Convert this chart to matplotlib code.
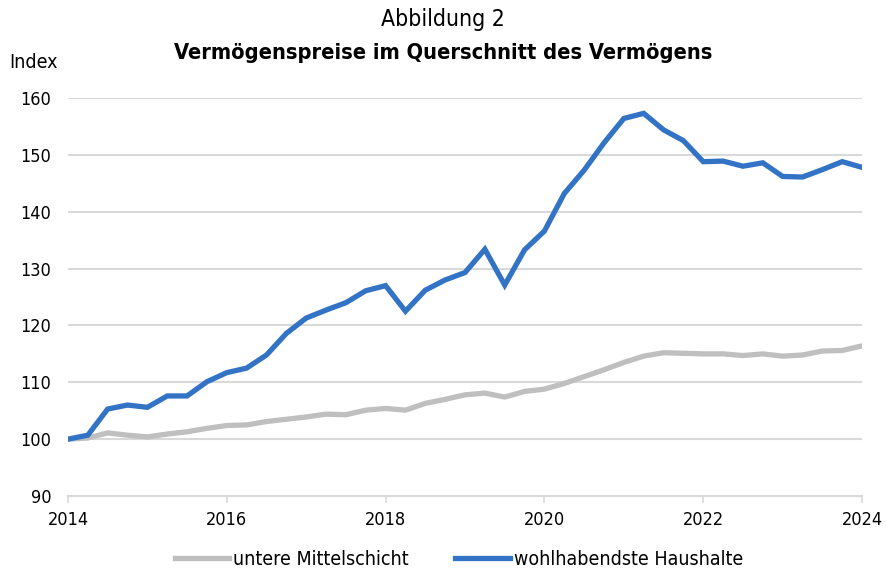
import numpy as np
import matplotlib
matplotlib.use("Agg")
import matplotlib.pyplot as plt

plt.rcParams["font.family"] = ["DejaVu Sans"]
plt.rcParams["font.stretch"] = "condensed"

# Quarterly index values, 2014 Q1 .. 2024 Q1
START_YEAR = 2014
untere_mittelschicht = [
    100.0, 100.2, 101.1, 100.7, 100.4, 100.9, 101.3, 101.9, 102.4, 102.5,
    103.1, 103.5, 103.9, 104.4, 104.3, 105.1, 105.4, 105.1, 106.3, 107.0,
    107.8, 108.1, 107.4, 108.4, 108.8, 109.8, 111.0, 112.2, 113.5, 114.6,
    115.2, 115.1, 115.0, 115.0, 114.7, 115.0, 114.6, 114.8, 115.5, 115.6,
    116.4,
]
wohlhabendste = [
    100.0, 100.7, 105.3, 106.0, 105.6, 107.6, 107.6, 110.1, 111.7, 112.5,
    114.8, 118.6, 121.3, 122.7, 124.0, 126.1, 127.0, 122.5, 126.2, 128.0,
    129.3, 133.4, 127.1, 133.3, 136.6, 143.2, 147.3, 152.1, 156.4, 157.3,
    154.4, 152.5, 148.8, 148.9, 148.0, 148.6, 146.2, 146.1, 147.4, 148.8,
    147.8,
]
labels = ["untere Mittelschicht", "wohlhabendste Haushalte"]
colors = ["#BFBFBF", "#3273C6"]

x = START_YEAR + np.arange(len(wohlhabendste)) / 4.0

fig = plt.figure(figsize=(8.86, 5.71), dpi=100)
ax = fig.add_axes([0.0767, 0.1313, 0.8963, 0.6971])

for y, lab, c in zip([untere_mittelschicht, wohlhabendste], labels, colors):
    ax.plot(x, y, color=c, linewidth=3.8, label=lab, solid_joinstyle="miter")

ax.set_xlim(2014, 2024)
ax.set_ylim(90, 160)
ax.set_yticks(range(90, 161, 10))
ax.set_xticks(range(2014, 2025, 2))
ax.grid(True, axis="y", color="#D9D9D9", linewidth=1.5)
ax.set_axisbelow(True)

for side in ["left", "right", "top"]:
    ax.spines[side].set_visible(False)
ax.spines["bottom"].set_color("#D9D9D9")
ax.spines["bottom"].set_linewidth(1.5)
ax.tick_params(axis="x", direction="out", length=5, width=1.2, color="#D9D9D9",
               labelsize=13, pad=6)
ax.tick_params(axis="y", length=0, labelsize=13, pad=12)

fig.text(0.5, 0.965, "Abbildung 2", ha="center", va="center", fontsize=16.5)
fig.text(0.5, 0.907, "Vermögenspreise im Querschnitt des Vermögens", ha="center",
         va="center", fontsize=15.7, fontweight="bold")
fig.text(0.011, 0.89, "Index", ha="left", va="center", fontsize=14)

fig.legend(loc="center", bbox_to_anchor=(0.518, 0.02), ncol=2, frameon=False,
           fontsize=14, handlelength=2.8, handletextpad=0.2, columnspacing=2.4)

fig.savefig("out.png", dpi=100)
